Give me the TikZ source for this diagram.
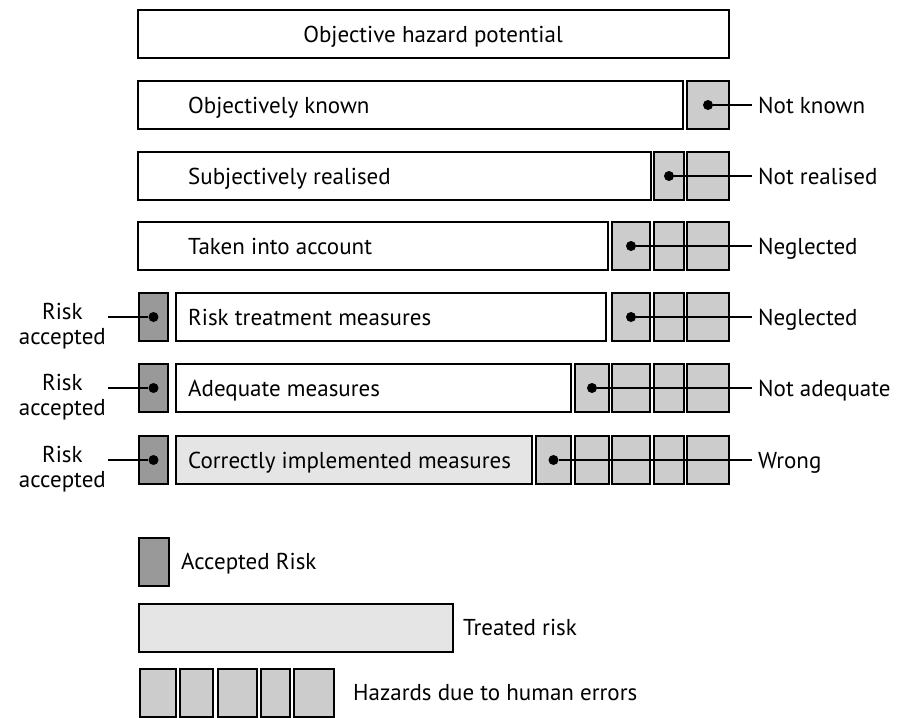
\documentclass[tikz,border=0pt]{standalone}
\usepackage{fontspec}
\setmainfont{PT Sans}
\definecolor{hzgray}{gray}{0.80}
\definecolor{accgray}{gray}{0.60}
\definecolor{treatgray}{gray}{0.90}
\begin{document}
\begin{tikzpicture}[x=1pt,y=-1pt,
  box/.style={draw, line width=2pt, anchor=north west, inner sep=0pt, minimum height=48pt},
  plain/.style={box, fill=white},
  hz/.style={box, fill=hzgray},
  acc/.style={box, fill=accgray, minimum width=29pt},
  treat/.style={box, fill=treatgray},
  hdot/.style={circle, fill=black, inner sep=0pt, minimum size=10pt},
  conn/.style={line width=1.6pt},
  txt/.style={font=\fontsize{23}{25}\selectfont, inner sep=0pt, anchor=base west},
  rlab/.style={txt, inner xsep=6pt},
  llab/.style={font=\fontsize{23}{25}\selectfont, inner sep=0pt, inner xsep=2pt, align=center, anchor=east},
]
\useasboundingbox (0,0) rectangle (898,718);
% Row 1
\node[plain, minimum width=591pt] (b1) at (137,9) {};
\node[font=\fontsize{23}{25}\selectfont, inner sep=0pt, anchor=base] (t1) at (433,42) {Objective hazard potential};
% Row 2
\node[plain, minimum width=545pt] (b2) at (137,80) {};
\node[hz, minimum width=42pt] (h2a) at (686,80) {};
\node[txt] (t2) at (188,113) {Objectively known};
\node[hdot] (d2) at (h2a.center) {};
\node[rlab] (l2) at (752,113) {Not known};
\draw[conn] (d2) -- (d2 -| l2.west);
% Row 3
\node[plain, minimum width=513pt] (b3) at (137,151) {};
\node[hz, minimum width=30pt] (h3b) at (653,151) {};
\node[hz, minimum width=42pt] (h3a) at (686,151) {};
\node[txt] (t3) at (188,184) {Subjectively realised};
\node[hdot] (d3) at (h3b.center) {};
\node[rlab] (l3) at (752,184) {Not realised};
\draw[conn] (d3) -- (d3 -| l3.west);
% Row 4
\node[plain, minimum width=470pt] (b4) at (137,221) {};
\node[hz, minimum width=38pt] (h4c) at (611,221) {};
\node[hz, minimum width=30pt] (h4b) at (653,221) {};
\node[hz, minimum width=42pt] (h4a) at (686,221) {};
\node[txt] (t4) at (188,254) {Taken into account};
\node[hdot] (d4) at (h4c.center) {};
\node[rlab] (l4) at (752,254) {Neglected};
\draw[conn] (d4) -- (d4 -| l4.west);
% Row 5
\node[acc] (a5) at (138,292) {};
\node[plain, minimum width=430pt] (b5) at (175,292) {};
\node[hz, minimum width=38pt] (h5c) at (611,292) {};
\node[hz, minimum width=30pt] (h5b) at (653,292) {};
\node[hz, minimum width=42pt] (h5a) at (686,292) {};
\node[txt] (t5) at (188,325) {Risk treatment measures};
\node[hdot] (d5) at (h5c.center) {};
\node[rlab] (l5) at (752,325) {Neglected};
\draw[conn] (d5) -- (d5 -| l5.west);
\node[hdot] (e5) at (a5.center) {};
\node[llab] (k5) at (108,326) {Risk\\accepted};
\draw[conn] (e5) -- (e5 -| k5.east);
% Row 6
\node[acc] (a6) at (138,363) {};
\node[plain, minimum width=395pt] (b6) at (175,363) {};
\node[hz, minimum width=34pt] (h6d) at (574,363) {};
\node[hz, minimum width=38pt] (h6c) at (611,363) {};
\node[hz, minimum width=30pt] (h6b) at (653,363) {};
\node[hz, minimum width=42pt] (h6a) at (686,363) {};
\node[txt] (t6) at (188,396) {Adequate measures};
\node[hdot] (d6) at (h6d.center) {};
\node[rlab] (l6) at (752,396) {Not adequate};
\draw[conn] (d6) -- (d6 -| l6.west);
\node[hdot] (e6) at (a6.center) {};
\node[llab] (k6) at (108,397) {Risk\\accepted};
\draw[conn] (e6) -- (e6 -| k6.east);
% Row 7
\node[acc] (a7) at (138,435) {};
\node[treat, minimum width=356pt] (b7) at (175,435) {};
\node[hz, minimum width=35pt] (h7e) at (535,435) {};
\node[hz, minimum width=34pt] (h7d) at (574,435) {};
\node[hz, minimum width=38pt] (h7c) at (611,435) {};
\node[hz, minimum width=30pt] (h7b) at (653,435) {};
\node[hz, minimum width=42pt] (h7a) at (686,435) {};
\node[txt] (t7) at (188,468) {Correctly implemented measures};
\node[hdot] (d7) at (h7e.center) {};
\node[rlab] (l7) at (752,468) {Wrong};
\draw[conn] (d7) -- (d7 -| l7.west);
\node[hdot] (e7) at (a7.center) {};
\node[llab] (k7) at (108,469) {Risk\\accepted};
\draw[conn] (e7) -- (e7 -| k7.east);
% Legend
\node[acc, minimum width=30pt] (la) at (138,537) {};
\node[txt] (lat) at (181,569) {Accepted Risk};
\node[treat, minimum width=314pt] (lt) at (138,603) {};
\node[txt] (ltt) at (463,635) {Treated risk};
\node[hz, minimum width=36pt] (lh1) at (139,668) {};
\node[hz, minimum width=33pt] (lh2) at (179,668) {};
\node[hz, minimum width=39pt] (lh3) at (217,668) {};
\node[hz, minimum width=29pt] (lh4) at (260,668) {};
\node[hz, minimum width=40pt] (lh5) at (293,668) {};
\node[txt] (lht) at (353,700) {Hazards due to human errors};
\end{tikzpicture}
\end{document}
